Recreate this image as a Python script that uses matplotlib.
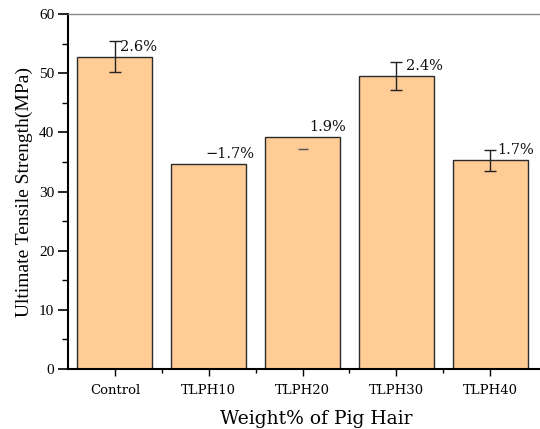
import matplotlib
matplotlib.use('Agg')
from matplotlib import pyplot as plt
from matplotlib.ticker import MultipleLocator, FixedLocator
import numpy as np

categories = ['Control', 'TLPH10', 'TLPH20', 'TLPH30', 'TLPH40']
strength = [52.8, 34.6, 39.2, 49.5, 35.3]
err_low = [2.6, 0.0, 2.0, 2.4, 1.8]
err_high = [2.6, 0.0, 0.0, 2.4, 1.8]
labels = ['2.6%', '\u22121.7%', '1.9%', '2.4%', '1.7%']
label_dx = [0.05, -0.04, 0.07, 0.1, 0.08]

plt.rcParams['font.family'] = ['Liberation Serif', 'DejaVu Serif']

fig = plt.figure(figsize=(5.4, 4.29), dpi=100)
ax = fig.add_axes([0.126, 0.140, 0.872, 0.827])

x = np.arange(len(categories))
ax.bar(x, strength, width=0.8, color='#FFCC96', edgecolor='#2b2b2b', linewidth=1.0, zorder=2)

# error bars (TLPH20 only shows lower cap in the original)
for i in range(len(x)):
    if err_low[i] == 0 and err_high[i] == 0:
        continue
    if err_high[i] == 0:
        ax.plot(x[i], strength[i] - err_low[i], marker='_', markersize=7, color='#555555', zorder=3)
    else:
        ax.errorbar(x[i], strength[i], yerr=[[err_low[i]], [err_high[i]]], fmt='none',
                    ecolor='#222222', elinewidth=1.0, capsize=4, capthick=1.0, zorder=3)

for i in range(len(x)):
    ax.text(x[i] + label_dx[i], strength[i] + 1.0, labels[i],
            ha='left', va='baseline', fontsize=10.5,
            family=['DejaVu Serif'], color='#111111', zorder=4)

ax.set_xlim(-0.5, 4.52)
ax.set_ylim(0, 60)
ax.set_xticks(x)
ax.set_xticklabels(categories, fontsize=9.5, family=['DejaVu Serif'])
ax.xaxis.set_minor_locator(FixedLocator(x[:-1] + 0.5))
ax.yaxis.set_major_locator(MultipleLocator(10))
ax.yaxis.set_minor_locator(MultipleLocator(5))
ax.tick_params(axis='y', which='major', length=7, width=1.2, labelsize=11, pad=3)
ax.tick_params(axis='y', which='minor', length=4, width=1.0)
ax.tick_params(axis='x', which='major', length=5, width=1.0, pad=6)
ax.tick_params(axis='x', which='minor', length=3, width=1.0)

ax.spines['right'].set_visible(False)
ax.spines['top'].set_color('#888888')
ax.spines['top'].set_linewidth(1.0)
ax.spines['left'].set_linewidth(1.5)
ax.spines['bottom'].set_linewidth(1.5)

ax.set_ylabel('Ultimate Tensile Strength(MPa)', fontsize=14, labelpad=4)
ax.set_xlabel('Weight% of Pig Hair', fontsize=13.5, family=['DejaVu Serif'])
ax.xaxis.set_label_coords(0.527, -0.115)

fig.savefig('out.png', dpi=100)
